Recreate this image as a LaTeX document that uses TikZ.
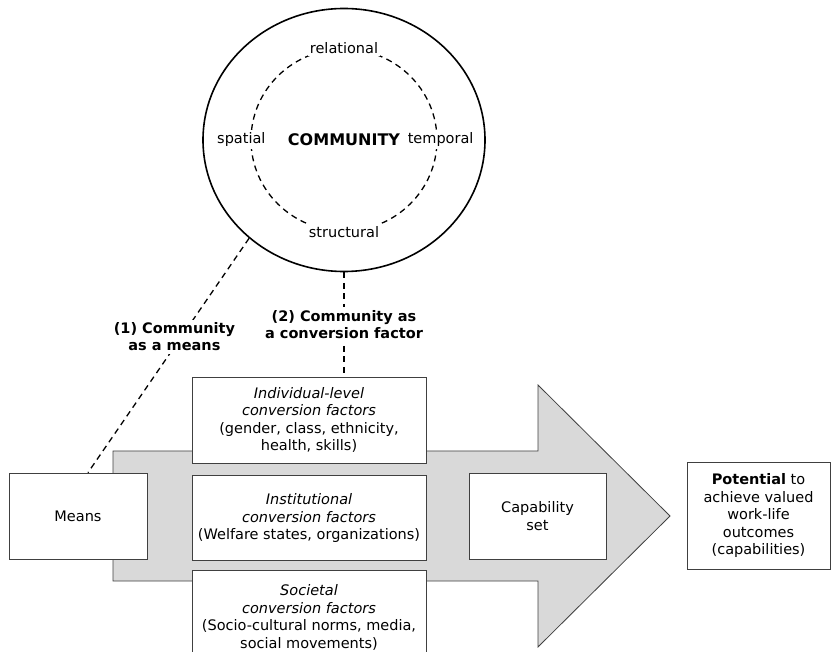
\documentclass[tikz,border=0pt]{standalone}
\usepackage{fontspec}
\setmainfont{DejaVu Sans}
\usepackage{tikz}
\usetikzlibrary{positioning}
\usetikzlibrary{shapes.geometric}

\begin{document}
\begin{tikzpicture}[x=1pt, y=-1pt,
		every node/.style={font=\fontsize{14.5}{17.5}\selectfont, align=center, inner sep=0pt},
		box/.style={draw=black!75, line width=0.8pt, fill=white},
		link/.style={draw, dash pattern=on 6pt off 4.5pt, line width=1.3pt},
		tag/.style={fill=white, inner sep=3pt, font=\fontsize{14.5}{17}\selectfont\bfseries}]
	\useasboundingbox (0,0) rectangle (831,652);
	\filldraw[fill=black!15, draw=black!75, line width=0.8pt] (113,451) -- (538,451) -- (538,385) -- (670,516) -- (538,647) -- (538,581) -- (113,581) -- cycle;
	\node[ellipse, draw, line width=1.6pt, minimum width=282, minimum height=263, font=\fontsize{16}{18}\selectfont\bfseries] (community) at (344,140) {COMMUNITY};
	\node[ellipse, draw, dash pattern=on 6pt off 4.5pt, line width=1.3pt, minimum width=186, minimum height=182] (ring) at (community.center) {};
	\foreach \side/\word/\dx in {north/relational/0, west/spatial/-9, east/temporal/3, south/structural/0}
	{
		\node[fill=white, inner sep=2pt, xshift=\dx] (\word) at (ring.\side) {\word};
	}
	\node[box, minimum width=234, minimum height=86] (individual) at (309,420) {\textit{Individual-level}\\\textit{conversion factors}\\(gender, class, ethnicity,\\health, skills)};
	\node[box, minimum width=234, minimum height=85, below=12pt of individual] (institutional) {\textit{Institutional}\\\textit{conversion factors}\\(Welfare states, organizations)};
	\node[box, minimum width=234, minimum height=94, below=9pt of institutional] (societal) {\textit{Societal}\\\textit{conversion factors}\\(Socio-cultural norms, media,\\social movements)};
	\node[box, minimum width=138, minimum height=86] (means) at (78,516) {Means};
	\node[box, minimum width=137, minimum height=86] (capability) at (537.5,516) {Capability\\set};
	\node[box, minimum width=143, minimum height=107] (potential) at (758.5,515.5) {\textbf{Potential} to\\achieve valued\\work-life\\outcomes\\(capabilities)};
	\draw[link] (community.226) -- node[tag, pos=0.42, xshift=-7pt] {(1) Community\\as a means} ([xshift=10pt]means.north);
	\draw[link] (community.south) -- node[tag] {(2) Community as\\a conversion factor} (community.south |- individual.north);
\end{tikzpicture}
\end{document}
